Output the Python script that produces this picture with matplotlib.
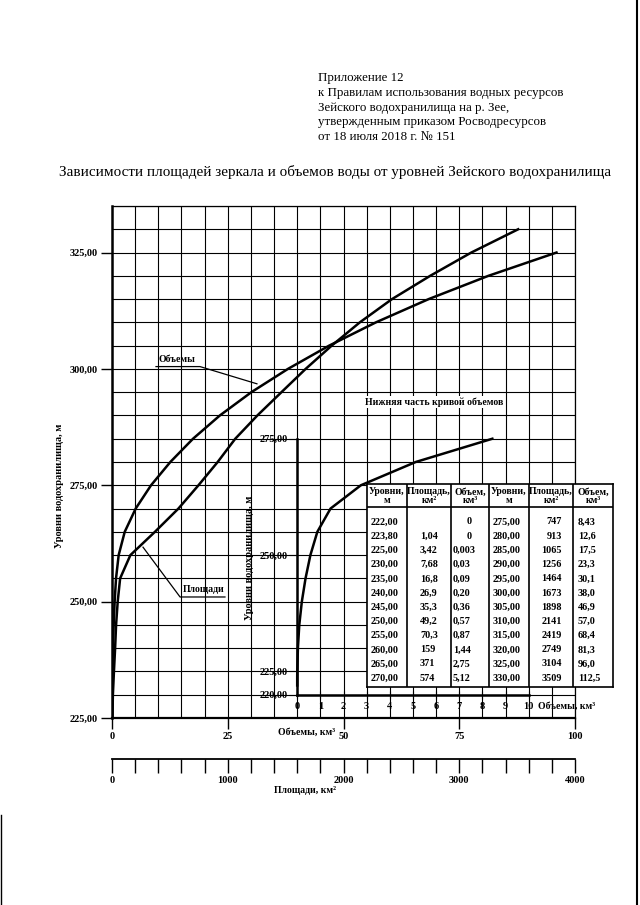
import numpy as np
import matplotlib
matplotlib.use('Agg')
import matplotlib.pyplot as plt
from matplotlib.ticker import FixedLocator, FuncFormatter

plt.rcParams['font.family'] = ['Liberation Serif', 'DejaVu Serif']

W, H = 640, 905

# --- table of the reservoir (levels, mirror area, volume) ---
levels_txt = ['222,00', '223,80', '225,00', '230,00', '235,00', '240,00',
              '245,00', '250,00', '255,00', '260,00', '265,00', '270,00',
              '275,00', '280,00', '285,00', '290,00', '295,00', '300,00',
              '305,00', '310,00', '315,00', '320,00', '325,00', '330,00']
areas_txt = ['', '1,04', '3,42', '7,68', '16,8', '26,9',
             '35,3', '49,2', '70,3', '159', '371', '574',
             '747', '913', '1065', '1256', '1464', '1673',
             '1898', '2141', '2419', '2749', '3104', '3509']
volumes_txt = ['0', '0', '0,003', '0,03', '0,09', '0,20',
               '0,36', '0,57', '0,87', '1,44', '2,75', '5,12',
               '8,43', '12,6', '17,5', '23,3', '30,1', '38,0',
               '46,9', '57,0', '68,4', '81,3', '96,0', '112,5']

header_txt = ['Уровни,\nм', 'Площадь,\nкм²', 'Объем,\nкм³']


def num(s):
    return float(s.replace(',', '.')) if s else np.nan


levels = np.array([num(s) for s in levels_txt])
areas = np.array([num(s) for s in areas_txt])
volumes = np.array([num(s) for s in volumes_txt])


def fx(px):
    return px / W


def fy(py):
    return 1 - py / H


fig = plt.figure(figsize=(W / 100, H / 100), dpi=100)

# header
header_lines = ['Приложение 12',
                'к Правилам использования водных ресурсов',
                'Зейского водохранилища на р. Зее,',
                'утвержденным приказом Росводресурсов',
                'от 18 июля 2018 г. № 151']
for i, line in enumerate(header_lines):
    fig.text(fx(318), fy(78 + i * 14.8), line, fontsize=9.3, va='center', ha='left')

fig.text(fx(335), fy(172),
         'Зависимости площадей зеркала и объемов воды от уровней Зейского водохранилища',
         fontsize=10.9, ha='center', va='center')

# --- main chart ---
L, R, B, T = 112, 575, 718, 206
ax = fig.add_axes([fx(L), fy(B), fx(R) - fx(L), fy(T) - fy(B)])
ax.set_xlim(0, 100)
ax.set_ylim(225, 335)
ax.xaxis.set_minor_locator(FixedLocator(np.arange(0, 101, 5)))
ax.yaxis.set_minor_locator(FixedLocator(np.arange(225, 336, 5)))
ax.set_xticks([0, 25, 50, 75, 100])
ax.set_yticks([225, 250, 275, 300, 325])
ax.yaxis.set_major_formatter(FuncFormatter(lambda v, p: f'{v:.2f}'.replace('.', ',')))
ax.grid(True, which='both', color='black', lw=0.8)
ax.tick_params(which='minor', length=0)
ax.tick_params(which='major', length=8, width=1, labelsize=7.5, pad=2)
for lab in ax.get_xticklabels() + ax.get_yticklabels():
    lab.set_fontweight('bold')
for sp in ax.spines.values():
    sp.set_linewidth(0.9)
ax.spines['left'].set_linewidth(1.8)
ax.spines['bottom'].set_linewidth(1.6)

vmask = levels <= 325
ax.plot(volumes[vmask], levels[vmask], color='black', lw=1.8, zorder=3)

ax_area = ax.twiny()
ax_area.set_xlim(0, 4000)
ax_area.set_xticks([])
for sp in ax_area.spines.values():
    sp.set_visible(False)
ax_area.plot(areas, levels, color='black', lw=1.8, zorder=3)

# captions with leader lines
ax.text(14.0, 302.0, 'Объемы', fontsize=7, fontweight='bold', ha='center', va='center')
ax.plot([9.5, 19.0, 31.3], [300.5, 300.5, 296.8], color='black', lw=0.9)
ax.text(19.9, 252.6, 'Площади', fontsize=7, fontweight='bold', ha='center', va='center')
ax.plot([24.4, 14.7, 6.7], [251.0, 251.0, 261.7], color='black', lw=0.9)

ax.text(42, 221.9, 'Объемы, км³', fontsize=7, fontweight='bold', ha='center', va='center')
fig.text(fx(59), fy(486), 'Уровни водохранилища, м', rotation=90, fontsize=7.5,
         fontweight='bold', ha='center', va='center')

# --- area scale under the chart ---
ax_sc = fig.add_axes([fx(L), fy(759), fx(R) - fx(L), 0.0005])
ax_sc.set_xlim(0, 4000)
ax_sc.set_yticks([])
ax_sc.set_xticks([0, 1000, 2000, 3000, 4000])
ax_sc.xaxis.set_minor_locator(FixedLocator(np.arange(0, 4001, 200)))
ax_sc.tick_params(which='both', length=10, width=1, labelsize=7.5, pad=2)
for lab in ax_sc.get_xticklabels():
    lab.set_fontweight('bold')
for s in ['left', 'right', 'top']:
    ax_sc.spines[s].set_visible(False)
ax_sc.spines['bottom'].set_linewidth(1.3)
ax_sc.patch.set_alpha(0)
fig.text(fx(305), fy(790), 'Площади, км²', fontsize=7, fontweight='bold', ha='center', va='center')


# --- inset: lower part of the volume curve ---
def main_to_fig(v, lev):
    return (fx(L) + v / 100 * (fx(R) - fx(L)),
            fy(B) + (lev - 225) / 110 * (fy(T) - fy(B)))


x0, y0 = main_to_fig(40, 230)
x1, y1 = main_to_fig(90, 285)
axi = fig.add_axes([x0, y0, x1 - x0, y1 - y0])
axi.patch.set_alpha(0)
axi.set_xlim(0, 10)
axi.set_ylim(220, 275)
axi.set_xticks(np.arange(0, 11, 1))
axi.set_yticks([220, 225, 250, 275])
axi.yaxis.set_minor_locator(FixedLocator(np.arange(220, 276, 5)))
axi.yaxis.set_major_formatter(FuncFormatter(lambda v, p: f'{v:.2f}'.replace('.', ',')))
axi.tick_params(axis='x', direction='inout', length=6, labelsize=7.5, pad=2)
axi.tick_params(axis='y', which='major', length=6, labelsize=7.5, pad=1)
axi.tick_params(axis='y', which='minor', length=4)
for lab in axi.get_xticklabels() + axi.get_yticklabels():
    lab.set_fontweight('bold')
axi.spines['top'].set_visible(False)
axi.spines['right'].set_visible(False)
axi.spines['left'].set_linewidth(1.8)
axi.spines['bottom'].set_linewidth(1.8)
imask = levels <= 275
axi.plot(volumes[imask], levels[imask], color='black', lw=1.8, clip_on=False)
axi.text(10.4, 217.5, 'Объемы, км³', fontsize=7, fontweight='bold', ha='left', va='center')
fig.text(fx(250), fy(558), 'Уровни водохранилища, м', rotation=90, fontsize=7.5,
         fontweight='bold', ha='center', va='center')
fig.text(fx(434), fy(402), 'Нижняя часть кривой объемов', fontsize=7, fontweight='bold',
         ha='center', va='center',
         bbox=dict(facecolor='white', edgecolor='none', pad=1))

# --- table ---
tl, tr, tt, tb = 367, 613, 484, 687
axt = fig.add_axes([fx(tl), fy(tb), fx(tr) - fx(tl), fy(tt) - fy(tb)])
axt.set_xlim(tl, tr)
axt.set_ylim(tb, tt)
axt.set_xticks([])
axt.set_yticks([])
axt.set_facecolor('white')
for sp in axt.spines.values():
    sp.set_linewidth(1.2)
col_edges = [367, 407, 451, 489, 529, 573, 613]
axt.vlines(col_edges[1:-1], tt, tb, color='black', lw=1.2)
axt.hlines(507, tl, tr, color='black', lw=1.2)
for k in range(6):
    xc = (col_edges[k] + col_edges[k + 1]) / 2
    axt.text(xc, 496, header_txt[k % 3], fontsize=7, fontweight='bold',
             ha='center', va='center', linespacing=0.9)

half = 12
for i in range(half):
    yrow = 522 + i * 14.2
    axt.text(371, yrow, levels_txt[i], fontsize=7.3, fontweight='bold', va='center', ha='left')
    axt.text(420, yrow, areas_txt[i], fontsize=7.3, fontweight='bold', va='center', ha='left')
    if volumes_txt[i] == '0':
        axt.text(469, yrow, volumes_txt[i], fontsize=7.3, fontweight='bold', va='center', ha='center')
    else:
        axt.text(453, yrow, volumes_txt[i], fontsize=7.3, fontweight='bold', va='center', ha='left')
    j = i + half
    axt.text(493, yrow, levels_txt[j], fontsize=7.3, fontweight='bold', va='center', ha='left')
    axt.text(562, yrow, areas_txt[j], fontsize=7.3, fontweight='bold', va='center', ha='right')
    axt.text(578, yrow, volumes_txt[j], fontsize=7.3, fontweight='bold', va='center', ha='left')

# scanned page edges
fig.add_artist(plt.Line2D([fx(637), fx(637)], [0, 1], color='black', lw=1.5))
fig.add_artist(plt.Line2D([fx(1), fx(1)], [fy(905), fy(815)], color='black', lw=1.0))

fig.savefig('out.png', dpi=100)
